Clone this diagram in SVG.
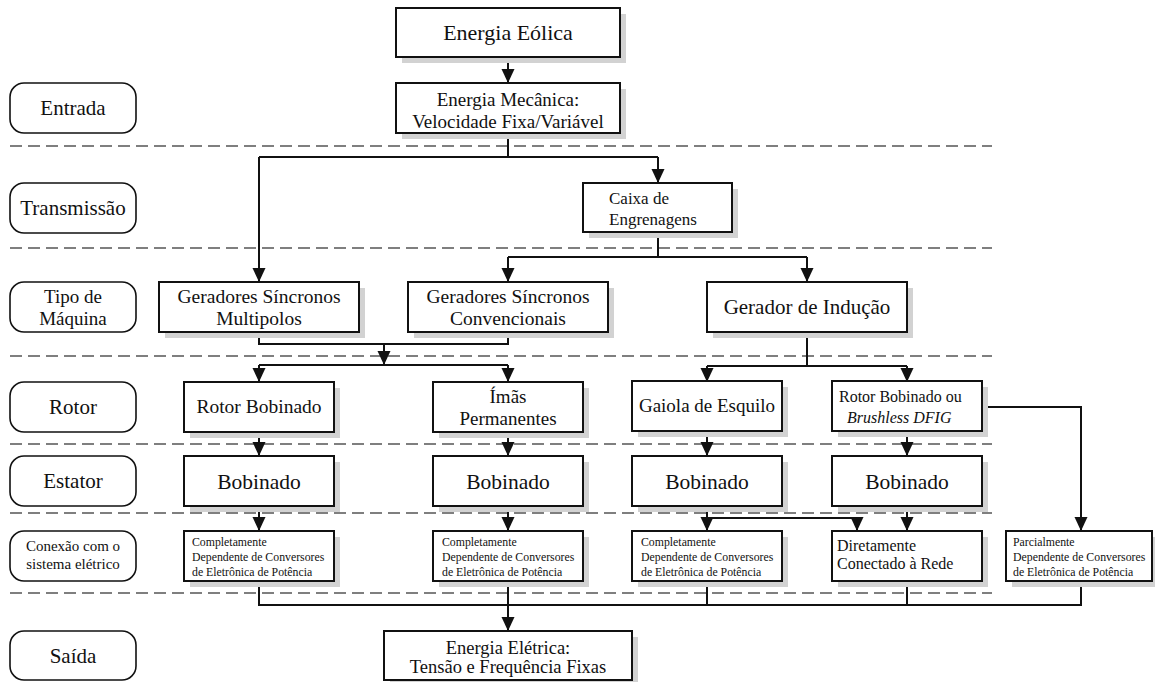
<svg xmlns="http://www.w3.org/2000/svg" width="1155" height="682" viewBox="0 0 1155 682" font-family="'Liberation Serif', 'DejaVu Serif', 'Times New Roman', serif">
  <style>
    text { font-family: "Liberation Serif", "DejaVu Serif", "Times New Roman", serif; fill: #111; }
    .c { text-anchor: middle; }
    .pill { fill: #fff; stroke: #111; stroke-width: 1.6; }
    .box { fill: #fff; stroke: #111; stroke-width: 2; }
    .shadow { fill: #d2d2d2; }
    .sep { stroke: #555; stroke-width: 1.6; stroke-dasharray: 12 6; fill: none; }
    .wire { stroke: #111; stroke-width: 2; fill: none; }
    .arr { stroke: #111; stroke-width: 2; fill: none; marker-end: url(#head); }
  </style>
  <defs>
    <marker id="head" markerUnits="userSpaceOnUse" markerWidth="14" markerHeight="14" viewBox="0 0 14 14" refX="14" refY="7" orient="auto">
      <path d="M0,0.5 L14,7 L0,13.5 Z" fill="#111"/>
    </marker>
  </defs>
  <rect width="1155" height="682" fill="#fff"/>

  <!-- layer separators -->
  <g id="separators">
    <line class="sep" x1="10" y1="146" x2="992" y2="146"/>
    <line class="sep" x1="10" y1="248" x2="992" y2="248"/>
    <line class="sep" x1="10" y1="356" x2="992" y2="356"/>
    <line class="sep" x1="10" y1="444" x2="992" y2="444"/>
    <line class="sep" x1="10" y1="513" x2="992" y2="513"/>
    <line class="sep" x1="10" y1="593" x2="992" y2="593"/>
  </g>

  <!-- row labels -->
  <g id="label-entrada"><rect class="pill" x="10" y="83" width="126" height="50" rx="14"/><text class="c" x="73" y="115" font-size="21">Entrada</text></g>
  <g id="label-transmissao"><rect class="pill" x="10" y="183" width="126" height="50" rx="14"/><text class="c" x="73" y="215" font-size="21">Transmissão</text></g>
  <g id="label-tipo"><rect class="pill" x="10" y="282" width="126" height="50" rx="14"/><text class="c" x="73" y="303" font-size="19">Tipo de</text><text class="c" x="73" y="325" font-size="19">Máquina</text></g>
  <g id="label-rotor"><rect class="pill" x="10" y="382" width="126" height="50" rx="14"/><text class="c" x="73" y="414" font-size="21">Rotor</text></g>
  <g id="label-estator"><rect class="pill" x="10" y="456" width="126" height="50" rx="14"/><text class="c" x="73" y="488" font-size="21">Estator</text></g>
  <g id="label-conexao"><rect class="pill" x="10" y="531" width="126" height="50" rx="14"/><text class="c" x="73" y="551" font-size="15">Conexão com o</text><text class="c" x="73" y="569" font-size="15">sistema elétrico</text></g>
  <g id="label-saida"><rect class="pill" x="10" y="631" width="126" height="49" rx="14"/><text class="c" x="73" y="663" font-size="21">Saída</text></g>

  <!-- connectors -->
  <g id="connectors">
    <line class="arr" x1="508" y1="57" x2="508" y2="83"/>
    <path class="wire" d="M508,133 V157 M259,157 H658"/>
    <line class="arr" x1="259" y1="157" x2="259" y2="282"/>
    <line class="arr" x1="658" y1="157" x2="658" y2="183"/>

    <path class="wire" d="M658,232 V257 M508,257 H807"/>
    <line class="arr" x1="508" y1="257" x2="508" y2="282"/>
    <line class="arr" x1="807" y1="257" x2="807" y2="282"/>

    <path class="wire" d="M259,332 V344 H508 V332 M259,365 H508"/>
    <line class="arr" x1="384" y1="344" x2="384" y2="365"/>
    <line class="arr" x1="259" y1="365" x2="259" y2="382"/>
    <line class="arr" x1="508" y1="365" x2="508" y2="382"/>

    <path class="wire" d="M807,332 V366 M707,366 H907"/>
    <line class="arr" x1="707" y1="366" x2="707" y2="382"/>
    <line class="arr" x1="907" y1="366" x2="907" y2="382"/>

    <path class="arr" d="M982,407 H1081 V531"/>

    <line class="arr" x1="259" y1="432" x2="259" y2="456"/>
    <line class="arr" x1="508" y1="432" x2="508" y2="456"/>
    <line class="arr" x1="707" y1="431" x2="707" y2="456"/>
    <line class="arr" x1="907" y1="431" x2="907" y2="456"/>

    <line class="arr" x1="259" y1="506" x2="259" y2="531"/>
    <line class="arr" x1="508" y1="506" x2="508" y2="531"/>
    <line class="arr" x1="707" y1="506" x2="707" y2="531"/>
    <line class="arr" x1="907" y1="506" x2="907" y2="531"/>
    <path class="arr" d="M707,518 H857 V531"/>

    <path class="wire" d="M259,581 V605 H1081 V581 M707,581 V605 M907,581 V605"/>
    <line class="arr" x1="508" y1="581" x2="508" y2="631"/>
  </g>

  <!-- nodes: each box sits on a light offset shadow -->
  <g id="eolica">
    <rect class="shadow" x="402" y="14" width="224" height="49"/>
    <rect class="box" x="396" y="8" width="224" height="49"/>
    <text class="c" x="508" y="40" font-size="22">Energia Eólica</text>
  </g>
  <g id="mecanica">
    <rect class="shadow" x="402" y="89" width="224" height="50"/>
    <rect class="box" x="396" y="83" width="224" height="50"/>
    <text class="c" x="508" y="106" font-size="19">Energia Mecânica:</text>
    <text class="c" x="508" y="128" font-size="19">Velocidade Fixa/Variável</text>
  </g>
  <g id="caixa">
    <rect class="shadow" x="589" y="189" width="149" height="49"/>
    <rect class="box" x="583" y="183" width="149" height="49"/>
    <text x="609" y="204" font-size="17">Caixa de</text>
    <text x="609" y="225" font-size="17">Engrenagens</text>
  </g>
  <g id="multipolos">
    <rect class="shadow" x="165" y="288" width="200" height="50"/>
    <rect class="box" x="159" y="282" width="200" height="50"/>
    <text class="c" x="259" y="303" font-size="19.5">Geradores Síncronos</text>
    <text class="c" x="259" y="325" font-size="19.5">Multipolos</text>
  </g>
  <g id="convencionais">
    <rect class="shadow" x="414" y="288" width="200" height="50"/>
    <rect class="box" x="408" y="282" width="200" height="50"/>
    <text class="c" x="508" y="303" font-size="19.5">Geradores Síncronos</text>
    <text class="c" x="508" y="325" font-size="19.5">Convencionais</text>
  </g>
  <g id="inducao">
    <rect class="shadow" x="713" y="288" width="200" height="50"/>
    <rect class="box" x="707" y="282" width="200" height="50"/>
    <text class="c" x="807" y="314" font-size="21">Gerador de Indução</text>
  </g>

  <g id="rotor-bobinado">
    <rect class="shadow" x="190" y="388" width="150" height="50"/>
    <rect class="box" x="184" y="382" width="150" height="50"/>
    <text class="c" x="259" y="413" font-size="19.5">Rotor Bobinado</text>
  </g>
  <g id="imas">
    <rect class="shadow" x="439" y="388" width="150" height="50"/>
    <rect class="box" x="433" y="382" width="150" height="50"/>
    <text class="c" x="508" y="403" font-size="19">Ímãs</text>
    <text class="c" x="508" y="425" font-size="19">Permanentes</text>
  </g>
  <g id="gaiola">
    <rect class="shadow" x="638" y="387" width="150" height="50"/>
    <rect class="box" x="632" y="381" width="150" height="50"/>
    <text class="c" x="707" y="412" font-size="19">Gaiola de Esquilo</text>
  </g>
  <g id="rotor-dfig">
    <rect class="shadow" x="838" y="387" width="150" height="50"/>
    <rect class="box" x="832" y="381" width="150" height="50"/>
    <text x="839" y="402" font-size="16">Rotor Bobinado ou</text>
    <text x="847" y="423" font-size="16" font-style="italic">Brushless DFIG</text>
  </g>

  <g id="estator-1">
    <rect class="shadow" x="190" y="462" width="150" height="50"/>
    <rect class="box" x="184" y="456" width="150" height="50"/>
    <text class="c" x="259" y="489" font-size="21.5">Bobinado</text>
  </g>
  <g id="estator-2">
    <rect class="shadow" x="439" y="462" width="150" height="50"/>
    <rect class="box" x="433" y="456" width="150" height="50"/>
    <text class="c" x="508" y="489" font-size="21.5">Bobinado</text>
  </g>
  <g id="estator-3">
    <rect class="shadow" x="638" y="462" width="150" height="50"/>
    <rect class="box" x="632" y="456" width="150" height="50"/>
    <text class="c" x="707" y="489" font-size="21.5">Bobinado</text>
  </g>
  <g id="estator-4">
    <rect class="shadow" x="838" y="462" width="150" height="50"/>
    <rect class="box" x="832" y="456" width="150" height="50"/>
    <text class="c" x="907" y="489" font-size="21.5">Bobinado</text>
  </g>

  <g id="conexao-1">
    <rect class="shadow" x="190" y="537" width="150" height="50"/>
    <rect class="box" x="184" y="531" width="150" height="50"/>
    <text x="192" y="546" font-size="11.8">Completamente</text>
    <text x="192" y="561" font-size="11.8">Dependente de Conversores</text>
    <text x="192" y="575.5" font-size="11.8">de Eletrônica de Potência</text>
  </g>
  <g id="conexao-2">
    <rect class="shadow" x="439" y="537" width="150" height="50"/>
    <rect class="box" x="433" y="531" width="150" height="50"/>
    <text x="442" y="546" font-size="11.8">Completamente</text>
    <text x="442" y="561" font-size="11.8">Dependente de Conversores</text>
    <text x="442" y="575.5" font-size="11.8">de Eletrônica de Potência</text>
  </g>
  <g id="conexao-3">
    <rect class="shadow" x="638" y="537" width="150" height="50"/>
    <rect class="box" x="632" y="531" width="150" height="50"/>
    <text x="641" y="546" font-size="11.8">Completamente</text>
    <text x="641" y="561" font-size="11.8">Dependente de Conversores</text>
    <text x="641" y="575.5" font-size="11.8">de Eletrônica de Potência</text>
  </g>
  <g id="conexao-rede">
    <rect class="shadow" x="838" y="537" width="150" height="50"/>
    <rect class="box" x="832" y="531" width="150" height="50"/>
    <text x="837" y="551" font-size="16">Diretamente</text>
    <text x="837" y="569" font-size="16">Conectado à Rede</text>
  </g>
  <g id="conexao-parcial">
    <rect class="shadow" x="1012" y="537" width="143" height="50"/>
    <rect class="box" x="1006" y="531" width="146" height="50"/>
    <text x="1013" y="546" font-size="11.8">Parcialmente</text>
    <text x="1013" y="561" font-size="11.8">Dependente de Conversores</text>
    <text x="1013" y="575.5" font-size="11.8">de Eletrônica de Potência</text>
  </g>

  <g id="eletrica">
    <rect class="shadow" x="390" y="637" width="248" height="45"/>
    <rect class="box" x="384" y="631" width="248" height="49"/>
    <text class="c" x="508" y="654" font-size="18.5">Energia Elétrica:</text>
    <text class="c" x="508" y="673" font-size="18.5">Tensão e Frequência Fixas</text>
  </g>
</svg>
